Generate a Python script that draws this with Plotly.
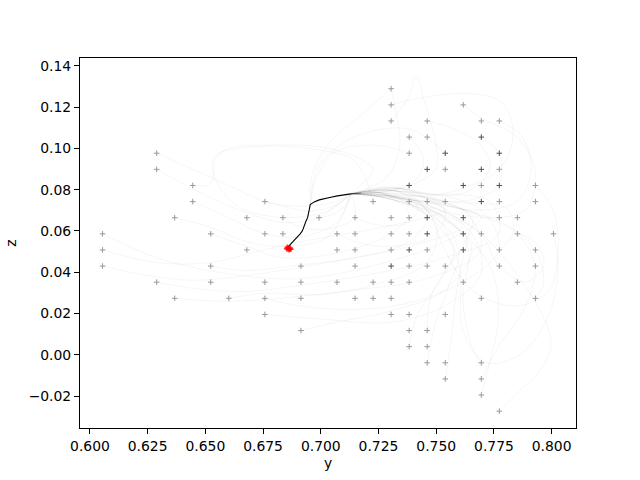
import plotly.graph_objects as go

# ---------------- axis ticks ----------------
x_tick_vals = [0.600, 0.625, 0.650, 0.675, 0.700, 0.725, 0.750, 0.775, 0.800]
x_tick_text = ["0.600", "0.625", "0.650", "0.675", "0.700", "0.725", "0.750", "0.775", "0.800"]
y_tick_vals = [-0.02, 0.00, 0.02, 0.04, 0.06, 0.08, 0.10, 0.12, 0.14]
y_tick_text = ["\u22120.02", "0.00", "0.02", "0.04", "0.06", "0.08", "0.10", "0.12", "0.14"]
x_range = [0.59570, 0.81055]
y_range = [-0.0355, 0.1438]

# ---------------- start positions ("+" markers), by column ----------------
marker_col_y = [0.60547, 0.62891, 0.63672, 0.64453, 0.65234, 0.66016, 0.66797, 0.67578,
                0.68359, 0.69141, 0.69922, 0.70703, 0.71484, 0.72266, 0.73047, 0.73828,
                0.74609, 0.75391, 0.76172, 0.76953, 0.77734, 0.78516, 0.79297, 0.80078]
marker_col_z = [
    [0.05859, 0.05078, 0.04297],
    [0.09766, 0.08984, 0.03516],
    [0.06641, 0.02734],
    [0.08203, 0.07422],
    [0.05859, 0.04297, 0.03516],
    [0.02734],
    [0.06641, 0.05078],
    [0.07422, 0.05859, 0.03516, 0.02734, 0.01953],
    [0.06641, 0.05859],
    [0.04297, 0.03516, 0.02734, 0.01172],
    [0.06641],
    [0.05859, 0.05078, 0.03516],
    [0.06641, 0.05859, 0.05078, 0.04297, 0.02734],
    [0.07422, 0.03516, 0.02734],
    [0.12891, 0.12109, 0.11328, 0.06641, 0.05859, 0.05078, 0.04297, 0.03516, 0.02734, 0.01953],
    [0.10547, 0.09766, 0.08203, 0.07422, 0.06641, 0.05859, 0.05078, 0.04297, 0.03516, 0.01953, 0.01172, 0.00391],
    [0.11328, 0.10547, 0.08984, 0.07422, 0.06641, 0.05859, 0.05078, 0.04297, 0.01172, 0.00391, -0.00391],
    [0.09766, 0.08984, 0.07422, 0.04297, 0.01953, -0.00391, -0.01172],
    [0.12109, 0.08203, 0.06641, 0.05859, 0.05078, 0.03516],
    [0.11328, 0.10547, 0.08984, 0.08203, 0.07422, 0.05859, 0.02734, -0.00391, -0.01172, -0.01953],
    [0.11328, 0.09766, 0.08984, 0.08203, 0.07422, 0.06641, 0.05078, 0.04297, -0.02734],
    [0.06641, 0.05859, 0.03516],
    [0.08203, 0.07422, 0.05078, 0.04297, 0.02734],
    [0.05859],
]
# number of coincident starts at each marker
marker_col_n = [
    [1, 1, 1], [1, 1, 1], [1, 1], [1, 1], [1, 1, 1], [1], [1, 1], [1, 1, 1, 1, 1],
    [1, 1], [1, 1, 1, 1], [1], [1, 1, 1], [1, 1, 1, 1, 1], [1, 1, 1],
    [1, 1, 1, 1, 1, 1, 2, 1, 1, 1],
    [1, 1, 2, 1, 1, 1, 2, 1, 1, 1, 1, 1],
    [1, 1, 2, 1, 2, 2, 1, 1, 1, 1, 1],
    [2, 1, 1, 1, 1, 1, 1],
    [1, 2, 2, 2, 2, 1],
    [1, 2, 2, 1, 2, 1, 1, 1, 1, 1],
    [1, 2, 1, 2, 1, 1, 1, 1, 1],
    [1, 1, 1],
    [1, 1, 1, 1, 1],
    [1],
]

# ---------------- faint trajectories (y list, z list) ----------------
traj_left = [
    ([.6055, .6289, .6601, .6913, .7225, .7537, .7693, .7459, .7300, .7131],
     [.0586, .0470, .0392, .0369, .0431, .0548, .0665, .0743, .0770, .0780]),
    ([.6055, .6250, .6406, .6562, .6757, .6991, .7303, .7537, .7320, .7131],
     [.0508, .0454, .0439, .0454, .0509, .0564, .0626, .0704, .0795, .0780]),
    ([.6055, .6250, .6445, .6679, .7030, .7381, .7615, .7381, .7280, .7131],
     [.0430, .0384, .0361, .0384, .0447, .0525, .0626, .0727, .0760, .0780]),
    ([.6289, .6445, .6601, .6757, .6913, .7069, .7131],
     [.0977, .0899, .0821, .0743, .0720, .0743, .0780]),
    ([.6289, .6445, .6640, .6835, .6991, .7069, .7131],
     [.0898, .0805, .0704, .0642, .0665, .0727, .0780]),
    ([.6445, .6523, .6546, .6601, .6757, .6991, .7147, .7225, .7131],
     [.0820, .0829, .0954, .1000, .1016, .1008, .0961, .0899, .0780]),
    ([.6445, .6601, .6757, .6913, .7069, .7131],
     [.0742, .0665, .0587, .0571, .0642, .0780]),
    ([.6367, .6523, .6679, .6835, .7030, .7131],
     [.0664, .0618, .0548, .0525, .0571, .0780]),
    ([.6523, .6679, .6835, .7069, .7303, .7381, .7260, .7131],
     [.0586, .0525, .0470, .0493, .0587, .0681, .0785, .0780]),
    ([.6289, .6445, .6679, .6913, .7225, .7537, .7771, .7732, .7459, .7350, .7131],
     [.0352, .0322, .0306, .0337, .0392, .0470, .0587, .0743, .0782, .0805, .0780]),
    ([.6367, .6601, .6835, .7147, .7459, .7693, .7615, .7380, .7131],
     [.0273, .0259, .0275, .0314, .0369, .0509, .0704, .0752, .0780]),
    ([.6523, .6679, .6874, .7147, .7381, .7459, .7300, .7131],
     [.0430, .0408, .0431, .0470, .0548, .0665, .0770, .0780]),
    ([.7227, .7147, .6991, .6718, .6539, .6539, .6640, .6835, .7030, .7131],
     [.0742, .0938, .0993, .1008, .0961, .0860, .0720, .0665, .0696, .0780]),
    ([.6836, .6913, .7030, .7147, .7131],
     [.0664, .0618, .0610, .0665, .0780]),
    ([.6758, .6835, .6952, .7069, .7131],
     [.0742, .0720, .0696, .0727, .0780]),
    ([.6992, .7053, .7108, .7131],
     [.0664, .0681, .0727, .0780]),
]
traj_lower = [
    ([.6758, .6913, .7147, .7381, .7615, .7771, .7693, .7320, .7131],
     [.0273, .0236, .0220, .0251, .0353, .0509, .0704, .0795, .0780]),
    ([.6914, .7069, .7303, .7537, .7654, .7537, .7280, .7131],
     [.0117, .0158, .0212, .0314, .0509, .0665, .0760, .0780]),
    ([.6758, .6991, .7303, .7537, .7693, .7654, .7350, .7131],
     [.0195, .0174, .0158, .0236, .0392, .0587, .0805, .0780]),
    ([.6602, .6757, .6991, .7225, .7459, .7498, .7260, .7131],
     [.0273, .0298, .0291, .0337, .0447, .0626, .0785, .0780]),
    ([.7695, .7732, .7771, .7732, .7576, .7380, .7131],
     [-.0195, -.0037, .0197, .0431, .0626, .0752, .0780]),
    ([.7695, .7654, .7615, .7639, .7537, .7300, .7131],
     [-.0039, .0041, .0275, .0509, .0665, .0770, .0780]),
    ([.7539, .7561, .7584, .7615, .7631, .7459, .7320, .7131],
     [-.0117, .0041, .0275, .0470, .0564, .0704, .0795, .0780]),
    ([.7461, .7498, .7561, .7599, .7537, .7280, .7131],
     [-.0039, .0158, .0353, .0486, .0626, .0760, .0780]),
    ([.7383, .7420, .7514, .7576, .7498, .7350, .7131],
     [.0039, .0197, .0353, .0493, .0642, .0805, .0780]),
    ([.7461, .7475, .7553, .7615, .7654, .7459, .7260, .7131],
     [.0117, .0275, .0431, .0525, .0665, .0759, .0785, .0780]),
    ([.7148, .7264, .7381, .7420, .7300, .7131],
     [.0664, .0626, .0642, .0720, .0770, .0780]),
    ([.7070, .7147, .7303, .7498, .7537, .7380, .7131],
     [.0586, .0548, .0525, .0587, .0704, .0752, .0780]),
]
traj_right = [
    ([.7930, .8005, .8028, .7989, .7849, .7654, .7537, .7459, .7320, .7131],
     [.0820, .0704, .0509, .0314, .0236, .0314, .0509, .0704, .0795, .0780]),
    ([.8008, .8028, .7989, .7865, .7717, .7615, .7599, .7498, .7280, .7131],
     [.0586, .0431, .0197, .0002, -.0037, .0119, .0431, .0665, .0760, .0780]),
    ([.7773, .7865, .7950, .7997, .7974, .7873, .7693, .7420, .7300, .7131],
     [-.0273, -.0170, -.0076, .0041, .0158, .0353, .0587, .0743, .0770, .0780]),
    ([.7695, .7771, .7888, .7927, .7849, .7615, .7350, .7131],
     [-.0117, .0041, .0236, .0431, .0587, .0704, .0805, .0780]),
    ([.7852, .7927, .7966, .7888, .7771, .7693, .7459, .7260, .7131],
     [.0586, .0548, .0431, .0353, .0431, .0587, .0727, .0785, .0780]),
    ([.7930, .7966, .7927, .7810, .7615, .7380, .7131],
     [.0273, .0353, .0509, .0626, .0704, .0752, .0780]),
    ([.7773, .7833, .7810, .7537, .7320, .7131],
     [.0508, .0587, .0704, .0743, .0795, .0780]),
]
traj_upper = [
    ([.7305, .7381, .7412, .7443, .7498, .7498, .7342, .7131],
     [.1133, .1250, .1355, .1250, .1024, .0899, .0805, .0780]),
    ([.7305, .7420, .7647, .7787, .7833, .7771, .7537, .7300, .7131],
     [.1211, .1242, .1266, .1219, .1071, .0899, .0782, .0770, .0780]),
    ([.7305, .7326, .7342, .7287, .7131],
     [.1289, .1172, .1016, .0860, .0780]),
    ([.7617, .7693, .7849, .7927, .7888, .7693, .7381, .7260, .7131],
     [.1211, .1149, .1055, .0899, .0704, .0665, .0743, .0785, .0780]),
    ([.7773, .7873, .7911, .7849, .7615, .7350, .7131],
     [.1133, .1055, .0899, .0743, .0704, .0805, .0780]),
    ([.7695, .7771, .7771, .7615, .7381, .7131],
     [.1055, .0977, .0821, .0743, .0774, .0780]),
    ([.7461, .7576, .7693, .7732, .7615, .7342, .7131],
     [.1133, .1094, .1016, .0899, .0782, .0790, .0780]),
    ([.7383, .7443, .7420, .7303, .7131],
     [.1055, .0961, .0860, .0798, .0780]),
]
# trajectories that reach the common path at its bend from above
traj_top_join = [
    ([.7305, .7186, .7030, .6960, .6955],
     [.1289, .1172, .1016, .0860, .0730]),
    ([.7383, .7225, .7053, .6975, .6955],
     [.0977, .1016, .0977, .0837, .0730]),
    ([.7539, .7381, .7147, .6991, .6955],
     [.0977, .1094, .1055, .0915, .0730]),
]

# ---------------- common converged path (dark) and its fading tail ----------------
common_y = [0.71305, 0.71014, 0.70724, 0.70438, 0.70148, 0.69932, 0.69715, 0.69598, 0.69542,
            0.69499, 0.69468, 0.69425, 0.69356, 0.69282, 0.69209, 0.69109, 0.68992, 0.68849,
            0.68706, 0.68559]
common_z = [0.07796, 0.07762, 0.07699, 0.07631, 0.07568, 0.07505, 0.07408, 0.07340, 0.07277,
            0.07020, 0.06826, 0.06632, 0.06467, 0.06210, 0.06016, 0.05856, 0.05725, 0.05565,
            0.05400, 0.05205]
tail_y = [0.71738, 0.71305]
tail_z = [0.07825, 0.07796]

# ---------------- final positions (red) ----------------
final_y = [0.6855, 0.6860, 0.6866, 0.6863, 0.6870, 0.6852, 0.6868, 0.6858]
final_z = [0.0521, 0.0516, 0.0513, 0.0509, 0.0511, 0.0514, 0.0517, 0.0511]

# =====================================================================
fig = go.Figure()

faint_line = dict(color="rgba(0,0,0,0.05)", width=0.8, shape="spline", smoothing=1.0)
for group in (traj_left, traj_lower, traj_right, traj_upper, traj_top_join):
    for ys, zs in group:
        fig.add_trace(go.Scatter(x=ys, y=zs, mode="lines", line=faint_line,
                                 hoverinfo="skip", showlegend=False))

fig.add_trace(go.Scatter(x=tail_y, y=tail_z, mode="lines",
                         line=dict(color="rgba(0,0,0,0.35)", width=1.1),
                         hoverinfo="skip", showlegend=False))
fig.add_trace(go.Scatter(x=common_y, y=common_z, mode="lines",
                         line=dict(color="black", width=1.1),
                         hoverinfo="skip", showlegend=False))

m_y, m_z, m_c = [], [], []
for y, zs, ns in zip(marker_col_y, marker_col_z, marker_col_n):
    for z, n in zip(zs, ns):
        m_y.append(y)
        m_z.append(z)
        m_c.append("#999999" if n == 1 else "#505050")
fig.add_trace(go.Scatter(x=m_y, y=m_z, mode="markers",
                         marker=dict(symbol="cross-thin", size=4,
                                     line=dict(width=1, color=m_c)),
                         hoverinfo="skip", showlegend=False))

fig.add_trace(go.Scatter(x=final_y, y=final_z, mode="markers",
                         marker=dict(symbol="cross-thin", size=4,
                                     line=dict(width=1.5, color="rgba(255,0,0,0.75)")),
                         hoverinfo="skip", showlegend=False))

font_family = "DejaVu Sans"
axis_common = dict(showline=True, linecolor="black", linewidth=1, mirror=True,
                   ticks="outside", ticklen=5, tickwidth=1, tickcolor="black",
                   showgrid=False, zeroline=False,
                   tickfont=dict(family=font_family, size=13.9, color="black"))

fig.update_layout(
    width=640, height=480,
    margin=dict(l=80, r=64, t=58, b=52, autoexpand=False),
    paper_bgcolor="white", plot_bgcolor="white",
    showlegend=False,
    font=dict(family=font_family, size=13.9, color="black"),
    xaxis=dict(range=x_range, tickmode="array", tickvals=x_tick_vals, ticktext=x_tick_text,
               title=dict(text="y", font=dict(family=font_family, size=13.9), standoff=5),
               **axis_common),
    yaxis=dict(range=y_range, tickmode="array", tickvals=y_tick_vals, ticktext=y_tick_text,
               title=dict(text="z", font=dict(family=font_family, size=13.9), standoff=8),
               **axis_common),
)

fig.write_html("out.html", config={"displayModeBar": False},
               post_script="document.body.style.margin='0';")
